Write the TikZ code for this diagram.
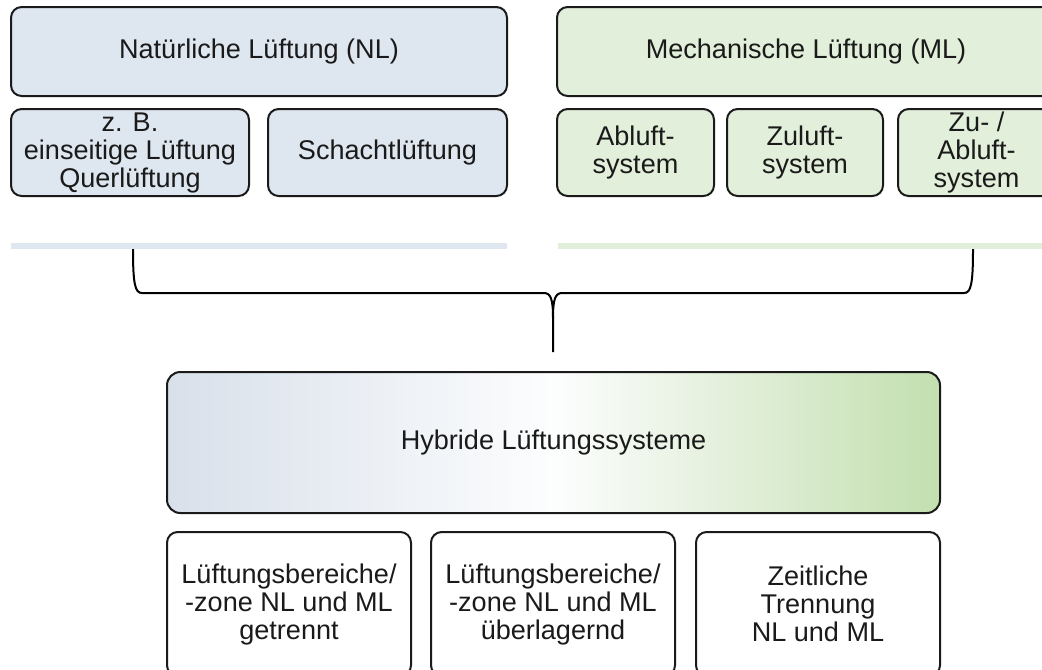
\documentclass[tikz,border=0pt]{standalone}
\usepackage{fontspec}
\setmainfont{Liberation Sans}
\usepackage{tikz}
\usetikzlibrary{calc}
\definecolor{nlblue}{HTML}{DEE6EF}
\definecolor{mlgreen}{HTML}{E2EFDA}
\definecolor{hybblue}{HTML}{D8E0EA}
\definecolor{hybgreen}{HTML}{C3DFB0}
\definecolor{linegray}{HTML}{1A1A1A}
\tikzset{
	box/.style={draw=linegray, line width=1.5pt, rounded corners=8pt, align=center, inner sep=0pt,
		text=linegray, font=\fontsize{20.3}{21}\selectfont},
	boxsize/.style 2 args={minimum width=#1*0.75pt, minimum height=#2*0.75pt},
	nlbox/.style={box, fill=nlblue},
	mlbox/.style={box, fill=mlgreen},
	hybbox/.style={box, rounded corners=10pt, left color=hybblue, right color=hybgreen, middle color=white!94!hybblue},
	zonebox/.style={box, fill=white},
	bar/.style={line width=4.5pt},
	brace/.style={draw=black, line width=1.5pt}
}

\begin{document}
\begin{tikzpicture}[x=0.75pt, y=-0.75pt]
			%%%%% START %%%%%
			\useasboundingbox (0, 0) rectangle (1042, 669);
			\clip (0, 0) rectangle (1042, 669);
			
			% natural ventilation
			\node[nlbox, boxsize={496}{89}] (nl) at (259, 51.5) {Natürliche Lüftung (NL)};
			\node[nlbox, boxsize={238}{87}] (nlquer) at (130, 152.5) {z. B.\\einseitige Lüftung\\Querlüftung};
			\node[nlbox, boxsize={239}{87}] (nlschacht) at (387.5, 152.5) {Schachtlüftung};
			
			% mechanical ventilation
			\node[mlbox, boxsize={498}{89}] (ml) at (806, 51.5) {Mechanische Lüftung (ML)};
			\node[mlbox, boxsize={157}{87}] (mlab) at (635.5, 152.5) {Abluft-\\system};
			\node[mlbox, boxsize={156}{87}] (mlzu) at (805, 152.5) {Zuluft-\\system};
			\node[mlbox, boxsize={157}{87}] (mlzuab) at (976.5, 152.5) {Zu- /\\Abluft-\\system};
			
			% bars
			\draw[bar, nlblue] (11, 246) -- (507, 246);
			\draw[bar, mlgreen] (558, 246) -- (1055, 246);
			
			% brace
			\coordinate (bl) at (133, 249);
			\coordinate (br) at (973, 249);
			\coordinate (tip) at (553, 352);
			\draw[brace] (bl) .. controls (133, 284) and (135, 293) .. (142, 293) -- (544, 293)
				.. controls (551, 293) and (553, 300) .. (553, 318) -- (tip);
			\draw[brace] (br) .. controls (973, 284) and (971, 293) .. (964, 293) -- (562, 293)
				.. controls (555, 293) and (553, 300) .. (553, 318);
			
			% hybrid
			\node[hybbox, boxsize={773}{141}] (hyb) at (553.5, 442.5) {Hybride Lüftungssysteme};
			\node[zonebox, boxsize={244}{144}] (getrennt) at (289, 604) {Lüftungsbereiche/\\-zone NL und ML\\getrennt};
			\node[zonebox, boxsize={244}{144}] (ueber) at (553, 604) {Lüftungsbereiche/\\-zone NL und ML\\überlagernd};
			\node[zonebox, boxsize={244}{144}] (zeit) at (818, 604) {Zeitliche\\Trennung\\NL und ML};
			
			%%%%% END %%%%%
\end{tikzpicture}
\end{document}
